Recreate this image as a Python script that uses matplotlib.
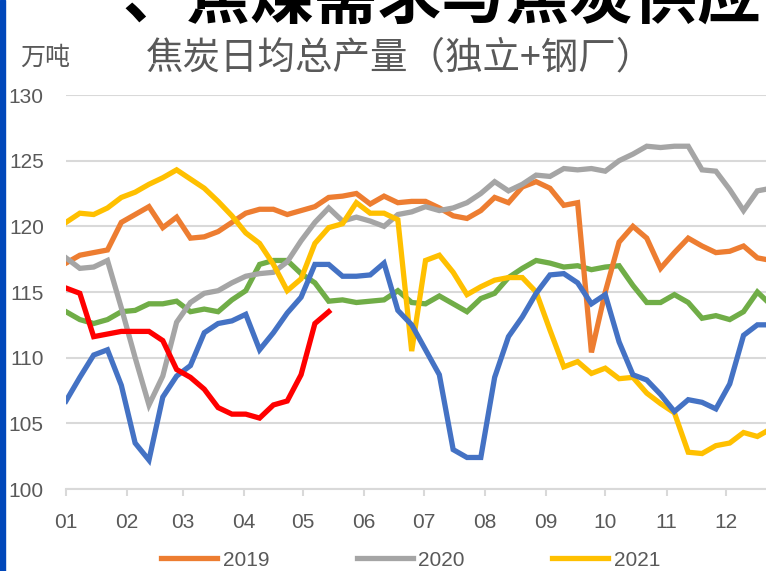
import matplotlib
matplotlib.use("Agg")
import matplotlib.pyplot as plt
import numpy as np
from matplotlib.patches import Rectangle

# weekly coke daily output, 10k tonnes
y2019 = [117.2, 117.8, 118.0, 118.2, 120.3, 120.9, 121.5, 119.9, 120.7, 119.1,
         119.2, 119.6, 120.3, 121.0, 121.3, 121.3, 120.9, 121.2, 121.5, 122.2,
         122.3, 122.5, 121.7, 122.3, 121.8, 121.9, 121.9, 121.4, 120.8, 120.6,
         121.2, 122.2, 121.8, 123.0, 123.4, 122.9, 121.6, 121.8, 110.4, 115.0,
         118.8, 120.0, 119.1, 116.8, 118.0, 119.1, 118.5, 118.0, 118.1, 118.5,
         117.6, 117.4]
y2020 = [117.6, 116.8, 116.9, 117.4, 113.8, 110.0, 106.4, 108.6, 112.7, 114.2,
         114.9, 115.1, 115.7, 116.2, 116.4, 116.5, 117.3, 118.9, 120.3, 121.4,
         120.4, 120.7, 120.4, 120.0, 120.9, 121.1, 121.5, 121.2, 121.4, 121.8,
         122.5, 123.4, 122.7, 123.2, 123.9, 123.8, 124.4, 124.3, 124.4, 124.2,
         125.0, 125.5, 126.1, 126.0, 126.1, 126.1, 124.3, 124.2, 122.8, 121.2,
         122.7, 122.9]
y2021 = [120.3, 121.0, 120.9, 121.4, 122.2, 122.6, 123.2, 123.7, 124.3, 123.6,
         122.9, 121.9, 120.8, 119.5, 118.7, 117.1, 115.1, 116.0, 118.7, 119.9,
         120.2, 121.8, 121.0, 121.0, 120.5, 110.5, 117.4, 117.8, 116.5, 114.8,
         115.4, 115.9, 116.1, 116.1, 115.0, 112.1, 109.3, 109.7, 108.8, 109.2,
         108.4, 108.5, 107.3, 106.5, 105.8, 102.8, 102.7, 103.3, 103.5, 104.3,
         104.0, 104.6]
y_green = [113.5, 112.9, 112.6, 112.9, 113.5, 113.6, 114.1, 114.1, 114.3, 113.5,
           113.7, 113.5, 114.4, 115.1, 117.1, 117.4, 117.4, 116.4, 115.7, 114.3,
           114.4, 114.2, 114.3, 114.4, 115.1, 114.2, 114.1, 114.7, 114.1, 113.5,
           114.5, 114.9, 116.1, 116.8, 117.4, 117.2, 116.9, 117.0, 116.7, 116.9,
           117.0, 115.5, 114.2, 114.2, 114.8, 114.2, 113.0, 113.2, 112.9, 113.5,
           115.0, 114.0]
y_blue = [106.7, 108.5, 110.2, 110.6, 107.9, 103.5, 102.2, 107.0, 108.6, 109.4,
          111.9, 112.6, 112.8, 113.3, 110.6, 111.9, 113.4, 114.6, 117.1, 117.1,
          116.2, 116.2, 116.3, 117.2, 113.6, 112.5, 110.6, 108.7, 103.0, 102.4,
          102.4, 108.5, 111.6, 113.1, 114.9, 116.3, 116.4, 115.7, 114.1, 114.8,
          111.2, 108.7, 108.3, 107.2, 105.9, 106.8, 106.6, 106.1, 108.0, 111.7,
          112.5, 112.5]
y2022 = [115.3, 114.9, 111.6, 111.8, 112.0, 112.0, 112.0, 111.3, 109.1, 108.5,
         107.6, 106.2, 105.7, 105.7, 105.4, 106.4, 106.7, 108.7, 112.6, 113.5]

month_start = [0, 31, 59, 90, 120, 151, 181, 212, 243, 273, 304, 334]
month_labels = ["01", "02", "03", "04", "05", "06", "07", "08", "09", "10", "11", "12"]


def week_days(values):
    return 7 * np.arange(len(values))


plt.rcParams['font.family'] = ['Liberation Sans', 'Noto Sans CJK SC']

fig = plt.figure(figsize=(7.66, 5.71), dpi=100)
ax = fig.add_axes([66 / 766, 82 / 571, 721 / 766, 394 / 571])

lw = 3.8
ax.plot(week_days(y_green), y_green, color='#70AD47', lw=lw, solid_joinstyle='miter')
ax.plot(week_days(y2019), y2019, color='#ED7D31', lw=lw, label='2019', solid_joinstyle='miter')
ax.plot(week_days(y2020), y2020, color='#A5A5A5', lw=lw, label='2020', solid_joinstyle='miter')
ax.plot(week_days(y2021), y2021, color='#FFC000', lw=lw, label='2021', solid_joinstyle='miter')
ax.plot(week_days(y_blue), y_blue, color='#4472C4', lw=lw, solid_joinstyle='miter')
ax.plot(week_days(y2022), y2022, color='#FF0000', lw=lw, solid_joinstyle='miter')

ax.set_xlim(0, 365)
ax.set_ylim(100, 130)
ax.set_yticks(np.arange(100, 131, 5))
ax.grid(axis='y', color='#D9D9D9', lw=1.5)
ax.set_axisbelow(True)
for s in ['top', 'right', 'left']:
    ax.spines[s].set_visible(False)
ax.spines['bottom'].set_color('#D9D9D9')
ax.spines['bottom'].set_linewidth(1.5)
ax.set_xticks(month_start)
ax.set_xticklabels(month_labels)
ax.tick_params(axis='x', colors='#D9D9D9', length=5, width=1.5, pad=12,
               labelsize=15, labelcolor='#595959')
ax.tick_params(axis='y', length=0, pad=16, labelsize=15, labelcolor='#595959')

fig.legend(loc='center', bbox_to_anchor=(0.536, 0.019), ncol=3, frameon=False,
           fontsize=15, handlelength=2.7, handletextpad=0.25, columnspacing=4.2,
           labelcolor='#595959')

fig.text(20 / 766, 1 - 58 / 571, '万吨', fontsize=18, color='#595959',
         family='Noto Sans CJK SC', va='center', ha='left')
fig.text(146 / 766, 1 - 58 / 571, '焦炭日均总产量（独立+钢厂）', fontsize=27,
         color='#595959', family='Noto Sans CJK SC', fontweight='light',
         va='center', ha='left')
# section heading, cut off by the top edge as in the screenshot
fig.text(122 / 766, 1 + 1 / 571, '、焦煤需求与焦炭供应', fontsize=46,
         color='black', family='Noto Sans CJK SC', fontweight='bold',
         va='center', ha='left')

fig.patches.append(Rectangle((0, 0), 5 / 766, 1, transform=fig.transFigure,
                             color='#0047BA', zorder=5))

fig.savefig('out.png', dpi=100)
